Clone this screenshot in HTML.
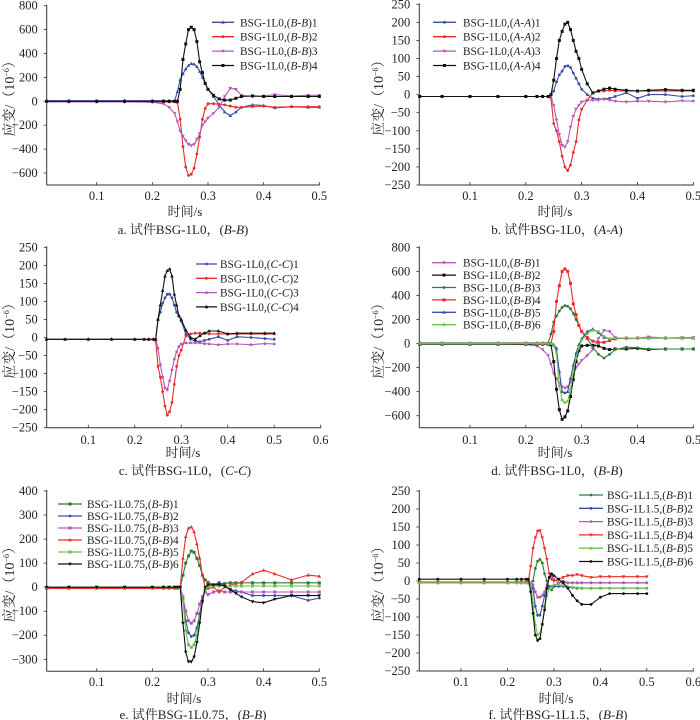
<!DOCTYPE html>
<html><head><meta charset="utf-8"><style>
html,body{margin:0;padding:0;background:#fff}
svg{display:block}
text{font-family:"Liberation Serif","Noto Serif CJK SC","Noto Sans CJK SC",serif;fill:#222}
</style></head><body>
<svg id="fig" width="700" height="720" viewBox="0 0 700 720" xmlns="http://www.w3.org/2000/svg"></svg>
<script>
// time samples (s)
const T = [0.01,0.05,0.1,0.15,0.2,0.22,0.23,0.24,0.245,0.25,0.255,0.26,0.265,0.27,0.275,0.28,0.285,0.29,0.295,0.3,0.31,0.32,0.33,0.34,0.35,0.36,0.38,0.4,0.42,0.45,0.48,0.5];
// panel a
const a1 = [5,5,5,5,5,5,5,5, 80,180,230,270,300,315,310,290,250,200,150,100, 40,-30,-90,-120,-90,-50,-30,-35,-55,-45,-50,-50];
const a2 = [-5,-5,-5,-5,-5,-5,-5,-5, -10,-150,-380,-550,-620,-610,-560,-440,-300,-150,-60,-20, -20,-25,-30,-40,-50,-50,-45,-40,-50,-45,-45,-45];
const a3 = [-5,-5,-5,-5,-8,-20,-50,-100, -170,-250,-290,-330,-360,-370,-360,-320,-270,-200,-170,-140, -100,-50,40,110,100,50,40,45,55,45,50,50];
const a4 = [0,0,0,0,0,0,0,0, 0,100,350,480,600,620,600,500,330,240,150,100, 50,20,10,10,25,40,45,40,40,40,40,40];
// panel b
const b1 = [-5,-5,-5,-5,-5,-5,-5,-5, 0,10,35,55,65,78,80,75,60,45,30,15, 0,-10,-12,-12,-10,-5,5,-10,0,0,-5,-3];
const b2 = [-5,-5,-5,-5,-5,-5,-5,-5, -10,-80,-100,-130,-170,-200,-210,-195,-160,-130,-70,-40, -15,5,10,10,12,10,10,10,10,10,10,10];
const b3 = [-5,-5,-5,-5,-5,-5,-5,-5, -5,-30,-70,-110,-140,-145,-130,-90,-60,-40,-30,-20, -15,-15,-15,-12,-15,-18,-20,-18,-18,-20,-17,-18];
const b4 = [-5,-5,-5,-5,-5,-5,-5,-5, 0,40,100,150,175,195,200,180,150,120,100,70, 30,5,10,15,18,15,12,10,12,14,12,12];
// panel c
const c1 = [-5,-5,-5,-5,-5,-5,-5,-5, -5,50,70,95,110,120,120,110,90,70,60,45, 10,-5,-10,-12,-8,-5,2,-8,2,0,-3,-5];
const c2 = [-5,-5,-5,-5,-5,-5,-5,-5, -10,-80,-110,-150,-190,-215,-205,-180,-130,-80,-50,-35, 5,10,12,12,12,10,10,10,10,10,10,10];
const c3 = [-5,-5,-5,-5,-5,-5,-5,-5, -5,-30,-75,-110,-140,-145,-120,-90,-60,-40,-25,-18, -15,-15,-15,-15,-17,-18,-20,-18,-18,-20,-17,-18];
const c4 = [-5,-5,-5,-5,-5,-5,-5,-5, -5,50,90,130,170,185,190,170,120,90,60,50, 20,0,-5,5,12,18,18,10,12,12,12,12];
// panel d
const d1 = [-5,-5,-5,-5,-8,-20,-50,-100, -170,-250,-290,-330,-360,-370,-360,-320,-270,-200,-170,-140, -100,-50,40,110,100,50,40,45,55,45,50,50];
const d2 = [-5,-5,-5,-5,-5,-5,-5,-5, -10,-150,-380,-550,-630,-610,-560,-440,-300,-150,-60,-20, -15,-15,-20,-40,-50,-45,-45,-40,-50,-45,-45,-45];
const d3 = [5,5,5,5,5,5,5,5, 80,180,230,270,300,315,310,290,250,200,150,100, 40,-30,-90,-120,-90,-50,-30,-35,-45,-45,-45,-45];
const d4 = [0,0,0,0,0,0,0,0, 0,100,350,480,600,620,600,500,330,240,150,100, 50,20,10,10,25,40,45,45,45,45,45,45];
const d5 = [0,0,0,0,0,0,0,0, 0,-10,-40,-230,-400,-410,-400,-290,-180,-80,-10,40, 100,120,90,50,40,45,45,45,45,45,45,45];
const d6 = [0,0,0,0,0,0,0,0, 0,-20,-80,-350,-470,-490,-480,-380,-230,-120,-30,30, 80,110,100,60,40,45,45,45,45,45,45,45];
// panel e
const e1 = [0,0,0,0,0,0,0,0, 0,0,50,100,130,150,145,120,90,50,30,20, 10,15,15,18,18,18,18,18,18,18,18,18];
const e2 = [0,0,0,0,0,0,0,0, 0,0,-50,-140,-190,-205,-200,-170,-110,-50,-10,5, 10,20,5,-10,-15,-20,-35,-35,-35,-35,-55,-45];
const e3 = [0,0,0,0,0,0,0,0, 0,0,-40,-100,-140,-150,-140,-110,-70,-40,-20,-30, -20,-15,-20,-20,-20,-20,-20,-20,-20,-20,-20,-20];
const e4 = [-5,-5,-5,-5,-5,-5,-5,-5, -5,0,120,210,245,250,230,180,120,50,0,-5, 0,-20,0,10,15,20,55,70,55,30,50,45];
const e5 = [0,0,0,0,0,0,0,0, 0,0,-60,-180,-240,-250,-240,-200,-130,-60,-10,5, 5,5,5,5,5,5,5,5,5,5,5,5];
const e6 = [0,0,0,0,0,0,0,0, 0,0,-150,-270,-310,-310,-290,-230,-150,-60,0,10, 10,10,5,-10,-25,-40,-60,-65,-50,-35,-35,-35];
// panel f
const f1 = [-5,-5,-5,-5,-5,-5,-5,-5, -5,-5,0,35,55,60,50,20,0,-20,-25,-15, -5,0,-5,-5,-5,-5,-5,-5,-5,-5,-5,-5];
const f2 = [-5,-5,-5,-5,-5,-5,-5,-5, -5,-5,-20,-70,-95,-95,-70,-40,-20,-15,-15,-15, -15,-15,-18,-18,-20,-20,-20,-20,-20,-20,-20,-20];
const f3 = [-5,-5,-5,-5,-5,-5,-5,-5, -5,-5,-10,-30,-45,-45,-40,-30,-10,10,15,5, -5,-5,-5,-5,-5,-5,-5,-5,-5,-5,-5,-5];
const f4 = [-3,-3,-3,-3,-3,-3,-3,-3, 0,40,90,120,138,140,120,90,60,20,5,0, 5,10,15,15,18,15,10,12,12,12,12,12];
const f5 = [-5,-5,-5,-5,-5,-5,-5,-5, -5,-10,-60,-120,-150,-145,-120,-70,-40,-20,-15,-10, -10,-12,-15,-17,-18,-20,-20,-20,-20,-20,-20,-20];
const f6 = [5,5,5,5,5,5,5,5, 5,-30,-90,-150,-165,-160,-120,-80,-20,10,20,15, 5,-5,-20,-40,-55,-65,-65,-45,-35,-35,-35,-35];
// tick labels
const xTicks5 = [0.1,0.2,0.3,0.4,0.5];
const xTicks6 = [0.1,0.2,0.3,0.4,0.5,0.6];
const yTicks800 = [-600,-400,-200,0,200,400,600,800];
const yTicks250 = [-250,-200,-150,-100,-50,0,50,100,150,200,250];
const yTicks400 = [-300,-200,-100,0,100,200,300,400];

const C = {blue:'#3b4fa6', red:'#ec2a2a', pink:'#b658b8', black:'#111', dg:'#2f7d34', lg:'#6ec24c'};
const NS = 'http://www.w3.org/2000/svg';
const svg = document.getElementById('fig');
function mk(tag, attrs, parent){const e=document.createElementNS(NS,tag);for(const k in attrs)e.setAttribute(k,attrs[k]);(parent||svg).appendChild(e);return e;}

const panels = [
 {id:'a', L:46.7, x0:96.7, sx:556.5, tEnd:0.5, yT:5.7, yMax:800, sy:0.1195, yMin:-700, xt:xTicks5, yt:yTicks800,
  lab:'a', spec:'BSG-1L0', sec:'B-B', base:200, xl:216, tl:234, tcx:183, xlc:185,
  leg:{x1:212,x2:234,tx:240,y0:22.3,dy:14.4}, yTitleX:9,
  series:[['BSG-1L0,(','B-B',')1',a1,C.blue,'tri'],['BSG-1L0,(','B-B',')2',a2,C.red,'dot'],['BSG-1L0,(','B-B',')3',a3,C.pink,'dtri'],['BSG-1L0,(','B-B',')4',a4,C.black,'sq']]},
 {id:'b', L:419.3, x0:470, sx:558.3, tEnd:0.5, yT:4.3, yMax:250, sy:0.3614, yMin:-250, xt:xTicks5, yt:yTicks250,
  lab:'b', spec:'BSG-1L0', sec:'A-A', base:200, xl:216, tl:234, tcx:557, xlc:555,
  leg:{x1:433,x2:456,tx:463,y0:22.3,dy:14.4}, yTitleX:378,
  series:[['BSG-1L0,(','A-A',')1',b1,C.blue,'dot'],['BSG-1L0,(','A-A',')2',b2,C.red,'dot'],['BSG-1L0,(','A-A',')3',b3,C.pink,'dtri'],['BSG-1L0,(','A-A',')4',b4,C.black,'sq']]},
 {id:'c', L:46.7, x0:88.3, sx:464.8, tEnd:0.6, yT:247.3, yMax:250, sy:0.3608, yMin:-250, xt:xTicks6, yt:yTicks250,
  lab:'c', spec:'BSG-1L0', sec:'C-C', base:444, xl:457, tl:475, tcx:185, xlc:183,
  leg:{x1:196,x2:217,tx:220,y0:264,dy:14.3}, yTitleX:9,
  series:[['BSG-1L0,(','C-C',')1',c1,C.blue,'dot'],['BSG-1L0,(','C-C',')2',c2,C.red,'dot'],['BSG-1L0,(','C-C',')3',c3,C.pink,'dot'],['BSG-1L0,(','C-C',')4',c4,C.black,'tri']]},
 {id:'d', L:419.3, x0:470, sx:558.3, tEnd:0.5, yT:247.3, yMax:800, sy:0.1203, yMin:-700, xt:xTicks5, yt:yTicks800,
  lab:'d', spec:'BSG-1L0', sec:'B-B', base:444, xl:457, tl:475, tcx:557, xlc:555,
  leg:{x1:432,x2:456,tx:463,y0:262.7,dy:12.4}, yTitleX:378,
  series:[['BSG-1L0,(','B-B',')1',d1,C.pink,'dtri'],['BSG-1L0,(','B-B',')2',d2,C.black,'sq'],['BSG-1L0,(','B-B',')3',d3,C.dg,'dot'],['BSG-1L0,(','B-B',')4',d4,C.red,'sq'],['BSG-1L0,(','B-B',')5',d5,C.blue,'tri'],['BSG-1L0,(','B-B',')6',d6,C.lg,'dot']]},
 {id:'e', L:46.7, x0:96.7, sx:556.5, tEnd:0.5, yT:491, yMax:400, sy:0.2404, yMin:-350, xt:xTicks5, yt:yTicks400,
  lab:'e', spec:'BSG-1L0.75', sec:'B-B', base:686, xl:703, tl:719, tcx:193, xlc:184,
  leg:{x1:58,x2:82,tx:87,y0:504,dy:12}, yTitleX:9,
  series:[['BSG-1L0.75,(','B-B',')1',e1,C.dg,'sq'],['BSG-1L0.75,(','B-B',')2',e2,C.blue,'dot'],['BSG-1L0.75,(','B-B',')3',e3,C.pink,'sq'],['BSG-1L0.75,(','B-B',')4',e4,C.red,'tri'],['BSG-1L0.75,(','B-B',')5',e5,C.lg,'sq'],['BSG-1L0.75,(','B-B',')6',e6,C.black,'dtri']]},
 {id:'f', L:419.3, x0:461, sx:464.5, tEnd:0.6, yT:491, yMax:250, sy:0.36, yMin:-250, xt:xTicks6, yt:yTicks250,
  lab:'f', spec:'BSG-1L1.5', sec:'B-B', base:686, xl:703, tl:719, tcx:558, xlc:556,
  leg:{x1:579,x2:603,tx:607,y0:495,dy:13.3}, yTitleX:378,
  series:[['BSG-1L1.5,(','B-B',')1',f1,C.dg,'dot'],['BSG-1L1.5,(','B-B',')2',f2,C.blue,'dot'],['BSG-1L1.5,(','B-B',')3',f3,C.pink,'dot'],['BSG-1L1.5,(','B-B',')4',f4,C.red,'dtri'],['BSG-1L1.5,(','B-B',')5',f5,C.lg,'tri'],['BSG-1L1.5,(','B-B',')6',f6,C.black,'dot']]}
];

function marker(g,kind,x,y,col){
  if(kind==='sq') return mk('rect',{x:x-1.5,y:y-1.5,width:3,height:3,fill:col},g);
  if(kind==='tri') return mk('path',{d:`M${x} ${y-2}L${x+1.8} ${y+1.3}L${x-1.8} ${y+1.3}Z`,fill:col},g);
  if(kind==='dtri') return mk('path',{d:`M${x} ${y+2}L${x+1.8} ${y-1.3}L${x-1.8} ${y-1.3}Z`,fill:col},g);
  return mk('circle',{cx:x,cy:y,r:1.4,fill:col},g);
}

panels.forEach(p=>{
  const X = t => p.x0 + (t-0.1)*p.sx;
  const Y = v => p.yT + (p.yMax - v)*p.sy;
  const bottom = Y(p.yMin), right = X(p.tEnd);
  const g = mk('g',{});
  
  
  const xa = mk('line',{x1:p.L,y1:bottom,x2:right+0.5,y2:bottom,stroke:'#333','stroke-width':1},g);
  
  
  const ya = mk('line',{x1:p.L,y1:Y(p.yMax)-1,x2:p.L,y2:bottom,stroke:'#333','stroke-width':1},g);
  
  
  p.xt.forEach(t=>{
    mk('line',{x1:X(t),y1:bottom,x2:X(t),y2:bottom-3,stroke:'#333','stroke-width':0.8},g);
    const tx = mk('text',{x:X(t),y:p.base,'text-anchor':'middle','font-size':12.5},g);
    tx.textContent = t.toFixed(1);
    
    
  });
  p.yt.forEach(v=>{
    mk('line',{x1:p.L,y1:Y(v),x2:p.L-3,y2:Y(v),stroke:'#333','stroke-width':0.8},g);
    const ty = mk('text',{x:p.L-9,y:Y(v)+4,'text-anchor':'end','font-size':12.5},g);
    ty.textContent = v<0 ? '\u2212'+Math.abs(v) : String(v);
    
    
  });
  const cy = (Y(p.yMax)+bottom)/2;
  const yt = mk('text',{x:p.yTitleX,y:cy,'text-anchor':'middle','font-size':14,transform:`rotate(-90 ${p.yTitleX} ${cy}) translate(0 5)`},g);
  yt.innerHTML = '应变/（10<tspan font-size="8" dy="-5">−6</tspan><tspan dy="5">）</tspan>';
  
  
  const xt = mk('text',{x:p.xlc,y:p.xl,'text-anchor':'middle','font-size':13},g);
  xt.textContent = '时间/s';
  
  
  const cap = mk('text',{x:p.tcx,y:p.tl,'text-anchor':'middle','font-size':13},g);
  cap.innerHTML = p.lab+'. 试件'+p.spec+'，(<tspan font-style="italic">'+p.sec+'</tspan>)';
  
  
  p.series.forEach((s,i)=>{
    const vals = s[3], col = s[4];
    const sg = mk('g',{},g);
    
    
    const pts = T.map((t,k)=>X(t).toFixed(1)+','+Y(vals[k]).toFixed(1)).join(' ');
    mk('polyline',{points:pts,fill:'none',stroke:col,'stroke-width':1.1,'stroke-linejoin':'round'},sg);
    T.forEach((t,k)=>marker(sg,s[5],X(t),Y(vals[k]),col));
    const ly = p.leg.y0 + i*p.leg.dy;
    const lg = mk('g',{},g);
    
    
    mk('line',{x1:p.leg.x1,y1:ly,x2:p.leg.x2,y2:ly,stroke:col,'stroke-width':1.3},lg);
    marker(lg,s[5],(p.leg.x1+p.leg.x2)/2,ly,col);
    const lt = mk('text',{x:p.leg.tx,y:ly+4,'font-size':11.3},lg);
    lt.innerHTML = s[0]+'<tspan font-style="italic">'+s[1]+'</tspan>'+s[2];
  });
});
</script>
</body></html>
